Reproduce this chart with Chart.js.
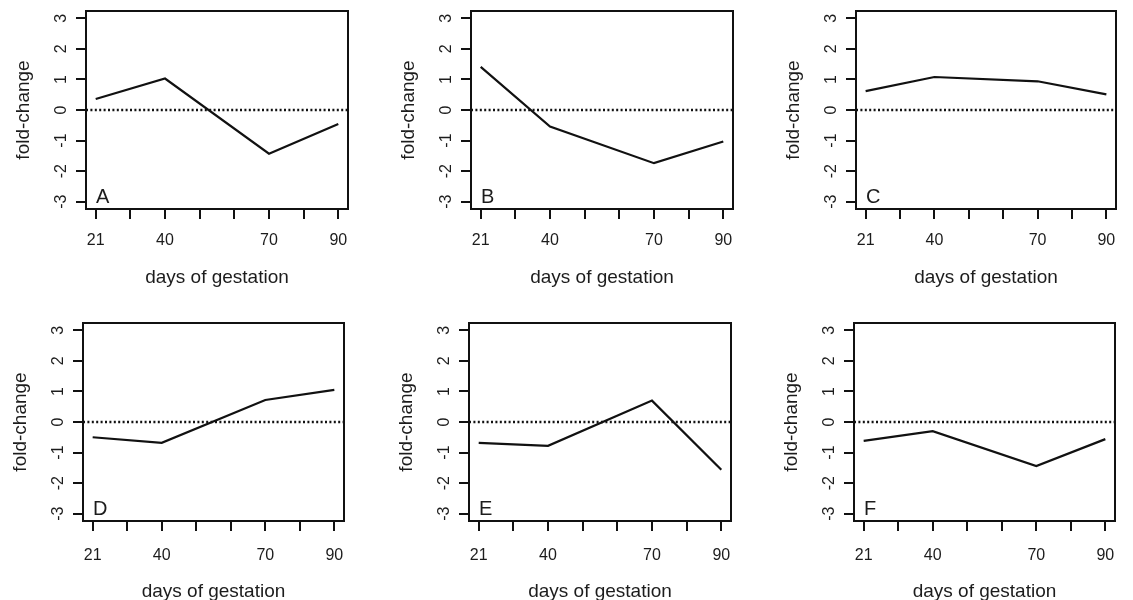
<!DOCTYPE html>
<html>
<head>
<meta charset="utf-8">
<title>fold-change by days of gestation</title>
<script src="https://cdn.jsdelivr.net/npm/chart.js@4"></script>
<style>
  html, body { margin: 0; padding: 0; background: #fff; overflow: hidden; }
  body { width: 1133px; height: 600px; position: relative; }
  canvas { position: absolute; }
</style>
</head>
<body>
<script>
// data
const days = ['21', '40', '70', '90'];
const tickLabels = ['21', '', '40', '', '', '70', '', '90'];
const yTicks = [-3, -2, -1, 0, 1, 2, 3];
const letters = ['A', 'B', 'C', 'D', 'E', 'F'];

const seriesA = [0.36, 1.03, -1.43, -0.46];
const seriesB = [1.41, -0.54, -1.74, -1.03];
const seriesC = [0.62, 1.08, 0.94, 0.51];
const seriesD = [-0.50, -0.68, 0.72, 1.05];
const seriesE = [-0.68, -0.78, 0.70, -1.56];
const seriesF = [-0.62, -0.30, -1.44, -0.56];
const allSeries = [seriesA, seriesB, seriesC, seriesD, seriesE, seriesF];

// plot box of each panel: left, right, top, bottom
const boxes = [
  [86, 348, 11, 209],
  [471, 733, 11, 209],
  [856, 1116, 11, 209],
  [83, 344, 323, 521],
  [469, 731, 323, 521],
  [854, 1115, 323, 521]
];

const INK = '#111';
const TEXT = '#1c1c1c';
const Y_AXIS_W = 90, PAD_TOP = 30, PAD_RIGHT = 30;

// R style 4% extension of the axis ranges
const xMin = -0.04 * (tickLabels.length - 1);
const xMax = (tickLabels.length - 1) * 1.04;
const yMin = -3.24, yMax = 3.24;

Chart.defaults.font.family = '"Liberation Sans", Arial, sans-serif';
Chart.defaults.color = TEXT;

const boxPlugin = {
  id: 'rbox',
  afterDraw(chart, args, opts) {
    const {ctx, chartArea} = chart;
    ctx.save();
    ctx.strokeStyle = INK;
    ctx.lineWidth = 2;
    ctx.strokeRect(chartArea.left, chartArea.top, chartArea.right - chartArea.left, chartArea.bottom - chartArea.top);
    ctx.fillStyle = TEXT;
    ctx.font = '20px "Liberation Sans", Arial, sans-serif';
    ctx.textBaseline = 'alphabetic';
    ctx.fillText(opts.letter, chartArea.left + 10, chartArea.bottom - 6);
    ctx.restore();
  }
};

function makePanel(i) {
  const [l, r, t, b] = boxes[i];
  const lower = i >= 3;
  const xAxisH = lower ? 84 : 82;
  const canvas = document.createElement('canvas');
  canvas.width = (r - l) + Y_AXIS_W + PAD_RIGHT;
  canvas.height = (b - t) + PAD_TOP + xAxisH;
  canvas.style.left = (l - Y_AXIS_W) + 'px';
  canvas.style.top = (t - PAD_TOP) + 'px';
  document.body.appendChild(canvas);

  const points = days.map((d, k) => ({ x: tickLabels.indexOf(d), y: allSeries[i][k] }));

  new Chart(canvas.getContext('2d'), {
    type: 'line',
    data: {
      datasets: [
        {
          data: points,
          borderColor: INK,
          borderWidth: 2.2,
          pointRadius: 0,
          tension: 0
        },
        {
          data: [{ x: xMin, y: 0 }, { x: xMax, y: 0 }],
          borderColor: INK,
          borderWidth: 2.5,
          borderDash: [2, 2.4],
          pointRadius: 0
        }
      ]
    },
    options: {
      responsive: false,
      animation: false,
      events: [],
      layout: { padding: { left: 0, top: PAD_TOP, right: PAD_RIGHT, bottom: 0 } },
      plugins: {
        legend: { display: false },
        tooltip: { enabled: false },
        rbox: { letter: letters[i] }
      },
      scales: {
        x: {
          type: 'linear',
          min: xMin,
          max: xMax,
          afterBuildTicks: s => { s.ticks = tickLabels.map((_, k) => ({ value: k })); },
          afterFit: s => { s.height = xAxisH; },
          border: { display: false },
          grid: { drawOnChartArea: false, drawTicks: true, tickLength: 10, color: INK, lineWidth: 2 },
          ticks: {
            autoSkip: false,
            maxRotation: 0,
            padding: lower ? 15 : 12,
            font: { size: 16 },
            callback: v => tickLabels[v]
          },
          title: { display: true, text: 'days of gestation', font: { size: 19 }, padding: { bottom: 2 } }
        },
        y: {
          type: 'linear',
          min: yMin,
          max: yMax,
          afterBuildTicks: s => { s.ticks = yTicks.map(v => ({ value: v })); },
          afterFit: s => { s.width = Y_AXIS_W; },
          border: { display: false },
          grid: { drawOnChartArea: false, drawTicks: true, tickLength: 10, color: INK, lineWidth: 2 },
          ticks: {
            minRotation: 90,
            maxRotation: 90,
            crossAlign: 'center',
            padding: 7,
            font: { size: 16 },
            callback: v => String(v)
          },
          title: { display: true, text: 'fold-change', font: { size: 19 }, padding: { top: 16 } }
        }
      }
    },
    plugins: [boxPlugin]
  });
}

document.addEventListener('DOMContentLoaded', () => {
  for (let i = 0; i < boxes.length; i++) makePanel(i);
});
</script>
</body>
</html>
